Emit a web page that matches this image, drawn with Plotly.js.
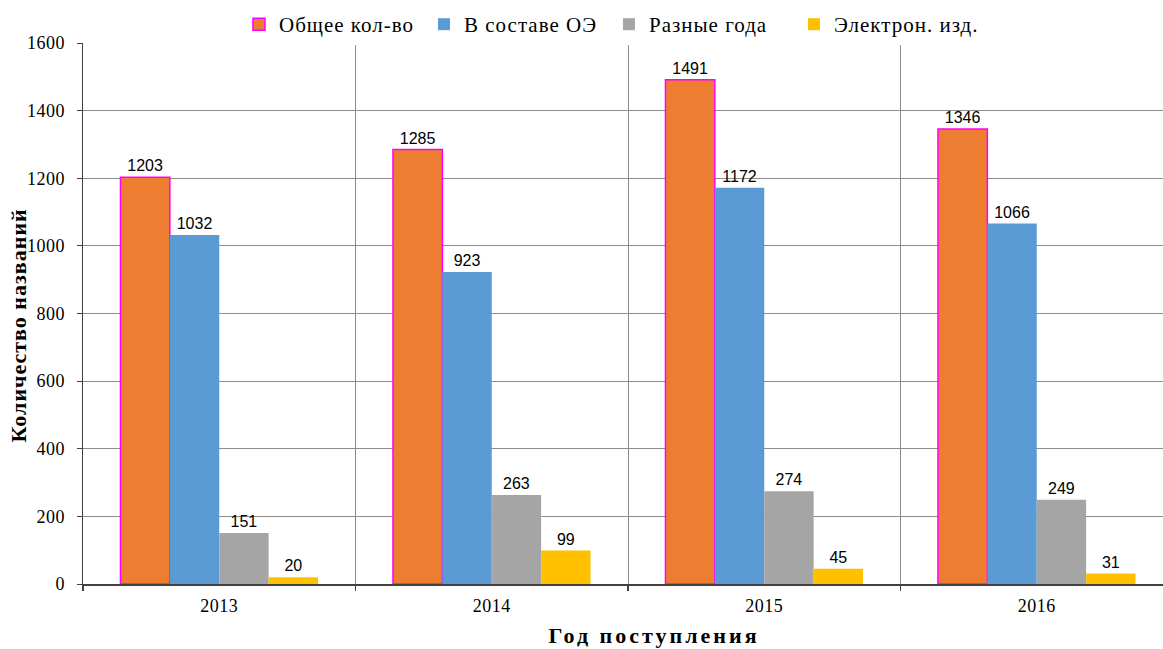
<!DOCTYPE html>
<html><head><meta charset="utf-8">
<script src="https://cdn.plot.ly/plotly-3.0.1.min.js"></script>
<style>
html,body{margin:0;padding:0;background:#fff}#chart{width:1163px;height:649px}
#chart .legendtext{letter-spacing:1px}
#chart .annotation-text.xt{letter-spacing:3px}
#chart .annotation-text.yt{letter-spacing:1px}
#chart .xtick text,#chart .ytick text{letter-spacing:0.5px}
</style>
</head><body><div id="chart"></div>
<script>
const years = ['2013', '2014', '2015', '2016'];
const seriesNames = ['Общее кол-во', 'В составе ОЭ', 'Разные года', 'Электрон. изд.'];
const total = [1203, 1285, 1491, 1346];
const inOE = [1032, 923, 1172, 1066];
const diffYears = [151, 263, 274, 249];
const electronic = [20, 99, 45, 31];
const yTicks = [0, 200, 400, 600, 800, 1000, 1200, 1400, 1600];
const xTitle = 'Год поступления';
const yTitle = 'Количество названий';

const colors = ['#ED7D31', '#5B9BD5', '#A5A5A5', '#FFC000'];
const lineCols = ['#FF00FF', 'rgba(0,0,0,0)', 'rgba(0,0,0,0)', 'rgba(0,0,0,0)'];
const lineW = [1.5, 0, 0, 0];
const values = [total, inOE, diffYears, electronic];

const traces = values.map((v, i) => ({
  type: 'bar', x: years, y: v, name: seriesNames[i],
  marker: {color: colors[i], line: {color: lineCols[i], width: lineW[i]}},
  text: v.map(String), textposition: 'outside', cliponaxis: false,
  textfont: {family: 'Liberation Sans, Arial', size: 16, color: '#000'},
  hoverinfo: 'x+y'
}));
traces.push({type: 'scatter', x: [-0.5, 3.5], y: [0, 0], xaxis: 'x2', mode: 'none', showlegend: false, hoverinfo: 'skip'});

const rightCut = 3.5 - 10 / 272.5;
const layout = {
  width: 1163, height: 649,
  margin: {l: 83, r: 0, t: 43, b: 65},
  paper_bgcolor: '#fff', plot_bgcolor: '#fff',
  barmode: 'group', bargap: 0.275, bargroupgap: 0,
  font: {family: 'Liberation Serif, Times New Roman', color: '#000'},
  showlegend: true,
  legend: {orientation: 'h', x: 0.487, xanchor: 'center', y: 1.072, yanchor: 'top',
    font: {family: 'Liberation Serif, Times New Roman', size: 21, color: '#000'},
    itemwidth: 30, entrywidth: 140, entrywidthmode: 'pixels', tracegroupgap: 0},
  xaxis: {type: 'category', range: [-0.5, rightCut], showgrid: false, zeroline: false,
    showline: false, ticks: '', ticklabelstandoff: 9,
    tickfont: {family: 'Liberation Serif', size: 18, color: '#000'}},
  xaxis2: {overlaying: 'x', range: [-0.5, rightCut], tickvals: [-0.5, 0.5, 1.5, 2.5, 3.5],
    showticklabels: false, showgrid: true, gridcolor: '#8C8C8C', gridwidth: 1,
    ticks: 'outside', ticklen: 5, tickcolor: '#404040', tickwidth: 1.5, zeroline: false,
    showline: true, linecolor: '#404040', linewidth: 1.5, side: 'bottom', anchor: 'y'},
  yaxis: {range: [0, 1600], tickvals: yTicks, ticktext: yTicks.map(String),
    showgrid: true, gridcolor: '#8C8C8C', gridwidth: 1, zeroline: false,
    showline: true, linecolor: '#404040', linewidth: 1.5, ticks: 'outside', ticklen: 5,
    tickcolor: '#404040', ticklabelstandoff: 8,
    tickfont: {family: 'Liberation Serif', size: 18, color: '#000'}},
  annotations: [
    {text: xTitle, xref: 'paper', yref: 'paper', x: (654 - 83) / 1080, y: -(635 - 584) / 541,
     xanchor: 'center', yanchor: 'middle', showarrow: false,
     font: {family: 'Liberation Serif', size: 22, color: '#000', weight: 'bold'}},
    {text: yTitle, xref: 'paper', yref: 'paper', x: (18 - 83) / 1080, y: 1 - (325 - 43) / 541,
     xanchor: 'center', yanchor: 'middle', showarrow: false, textangle: -90,
     font: {family: 'Liberation Serif', size: 22, color: '#000', weight: 'bold'}}
  ]
};
Plotly.newPlot('chart', traces, layout, {displayModeBar: false, staticPlot: true}).then(() => {
  const ann = document.querySelectorAll('#chart .annotation-text');
  if (ann[0]) ann[0].classList.add('xt');
  if (ann[1]) ann[1].classList.add('yt');
});
</script></body></html>
